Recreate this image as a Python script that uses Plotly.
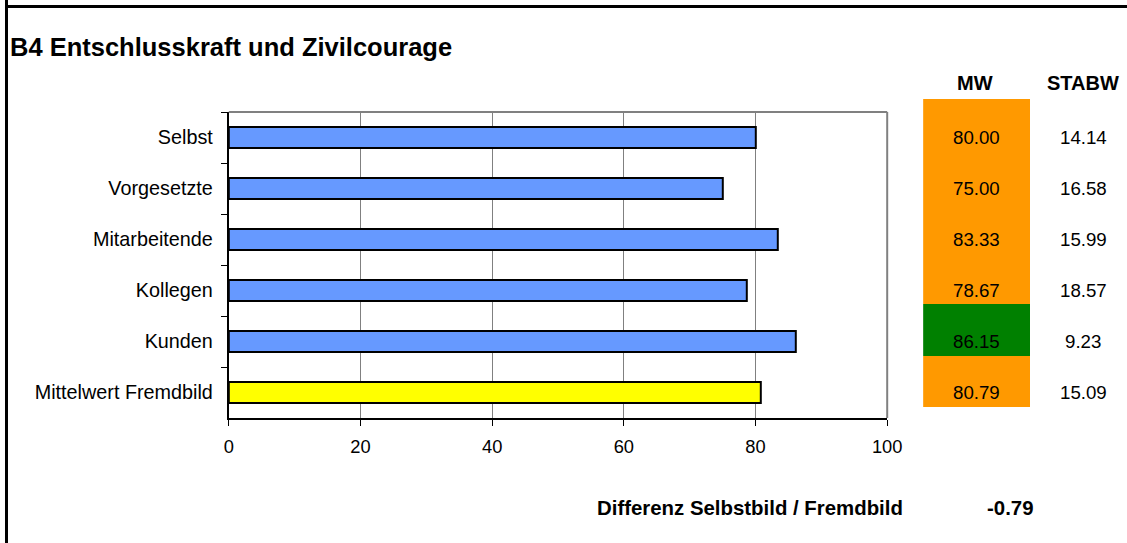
import plotly.graph_objects as go

# ---- data ----
categories = ["Selbst", "Vorgesetzte", "Mitarbeitende", "Kollegen", "Kunden", "Mittelwert Fremdbild"]
mw_values = [80.00, 75.00, 83.33, 78.67, 86.15, 80.79]
stabw_values = [14.14, 16.58, 15.99, 18.57, 9.23, 15.09]
x_ticks = [0, 20, 40, 60, 80, 100]
differenz = -0.79
title_text = "B4 Entschlusskraft und Zivilcourage"

# ---- styles ----
W, H = 1127, 543
FONT = "Liberation Sans, Arial, sans-serif"
bar_colors = ["#6699FF"] * 5 + ["#FFFF00"]
cell_colors = ["#FF9900", "#FF9900", "#FF9900", "#FF9900", "#008000", "#FF9900"]

# empirical mapping of target screen pixels to paper fractions
X0, XW = 4.0, 1108.0


def px(x):
    return (x - X0) / XW


def py(y):
    return 1 - y / H


fig = go.Figure()

# main bars
fig.add_trace(go.Bar(
    y=categories, x=mw_values, orientation="h", width=0.4,
    marker=dict(color=bar_colors, line=dict(color="black", width=2)),
    xaxis="x", yaxis="y", showlegend=False, hoverinfo="x+y",
))

# table cells (background of MW column)
fig.add_trace(go.Bar(
    y=categories, x=[1] * len(categories), orientation="h", width=1,
    marker=dict(color=cell_colors, line=dict(width=0)),
    xaxis="x2", yaxis="y2", showlegend=False, hoverinfo="skip",
))

annotations = []
for cat, mw, sd in zip(categories, mw_values, stabw_values):
    annotations.append(dict(x=px(976), xref="paper", y=cat, yref="y", text=f"{mw:.2f}",
                            showarrow=False, font=dict(family=FONT, size=18.7, color="black"),
                            xanchor="center", yanchor="middle"))
    annotations.append(dict(x=px(1083), xref="paper", y=cat, yref="y", text=f"{sd:.2f}",
                            showarrow=False, font=dict(family=FONT, size=18.7, color="black"),
                            xanchor="center", yanchor="middle"))

annotations += [
    dict(x=px(7), y=py(47), xref="paper", yref="paper", text=f"<b>{title_text}</b>",
         showarrow=False, xanchor="left", yanchor="middle",
         font=dict(family=FONT, size=25.5, color="black")),
    dict(x=px(975), y=py(83), xref="paper", yref="paper", text="<b>MW</b>",
         showarrow=False, xanchor="center", yanchor="middle",
         font=dict(family=FONT, size=20, color="black")),
    dict(x=px(1083), y=py(83), xref="paper", yref="paper", text="<b>STABW</b>",
         showarrow=False, xanchor="center", yanchor="middle",
         font=dict(family=FONT, size=20, color="black")),
    dict(x=px(595), y=py(508), xref="paper", yref="paper", text="<b>Differenz Selbstbild / Fremdbild</b>",
         showarrow=False, xanchor="left", yanchor="middle",
         font=dict(family=FONT, size=20.4, color="black")),
    dict(x=px(1010), y=py(508), xref="paper", yref="paper", text=f"<b>{differenz:.2f}</b>",
         showarrow=False, xanchor="center", yanchor="middle",
         font=dict(family=FONT, size=20.4, color="black")),
]

shapes = [
    # outer frame: top and left
    dict(type="line", xref="paper", yref="paper", x0=px(5.5), x1=1.05, y0=py(6.5), y1=py(6.5),
         line=dict(color="black", width=3)),
    dict(type="line", xref="paper", yref="paper", x0=px(5.5), x1=px(5.5), y0=-0.05, y1=1.05,
         line=dict(color="black", width=3)),
    # plot area top and right border (gray)
    dict(type="line", xref="x domain", yref="y domain", x0=0, x1=1, y0=1, y1=1,
         line=dict(color="#808080", width=2)),
    dict(type="line", xref="x domain", yref="y domain", x0=1, x1=1, y0=0, y1=1,
         line=dict(color="#808080", width=2)),
]

fig.update_layout(
    width=W, height=H,
    margin=dict(l=0, r=0, t=0, b=0),
    paper_bgcolor="white", plot_bgcolor="white",
    font=dict(family=FONT, size=18, color="black"),
    bargap=0,
    xaxis=dict(
        domain=[px(228), px(887)], range=[0, 100], tickvals=x_ticks,
        showgrid=True, gridcolor="#808080", gridwidth=1,
        showline=True, linecolor="black", linewidth=2,
        ticks="outside", ticklen=6, tickcolor="black", tickwidth=1,
        ticklabelstandoff=5,
        tickfont=dict(family=FONT, size=18.3), zeroline=False, fixedrange=True,
        anchor="y",
    ),
    yaxis=dict(
        domain=[py(418), py(112)], range=[5.5, -0.5], type="category",
        categoryorder="array", categoryarray=categories,
        showgrid=False, showline=True, linecolor="black", linewidth=2,
        ticks="outside", ticklen=6, tickcolor="black", tickwidth=1, tickson="boundaries",
        ticklabelstandoff=10,
        tickfont=dict(family=FONT, size=19.8), zeroline=False, fixedrange=True,
        anchor="x",
    ),
    xaxis2=dict(domain=[px(923), px(1030)], range=[0, 1], visible=False, anchor="y2", fixedrange=True),
    yaxis2=dict(domain=[py(407), py(99)], range=[5.5, -0.5], type="category",
                categoryorder="array", categoryarray=categories,
                visible=False, anchor="x2", fixedrange=True),
    annotations=annotations,
    shapes=shapes,
)

fig.write_html("out.html", config={"displayModeBar": False},
               post_script="document.body.style.margin='0';document.body.style.padding='0';")
